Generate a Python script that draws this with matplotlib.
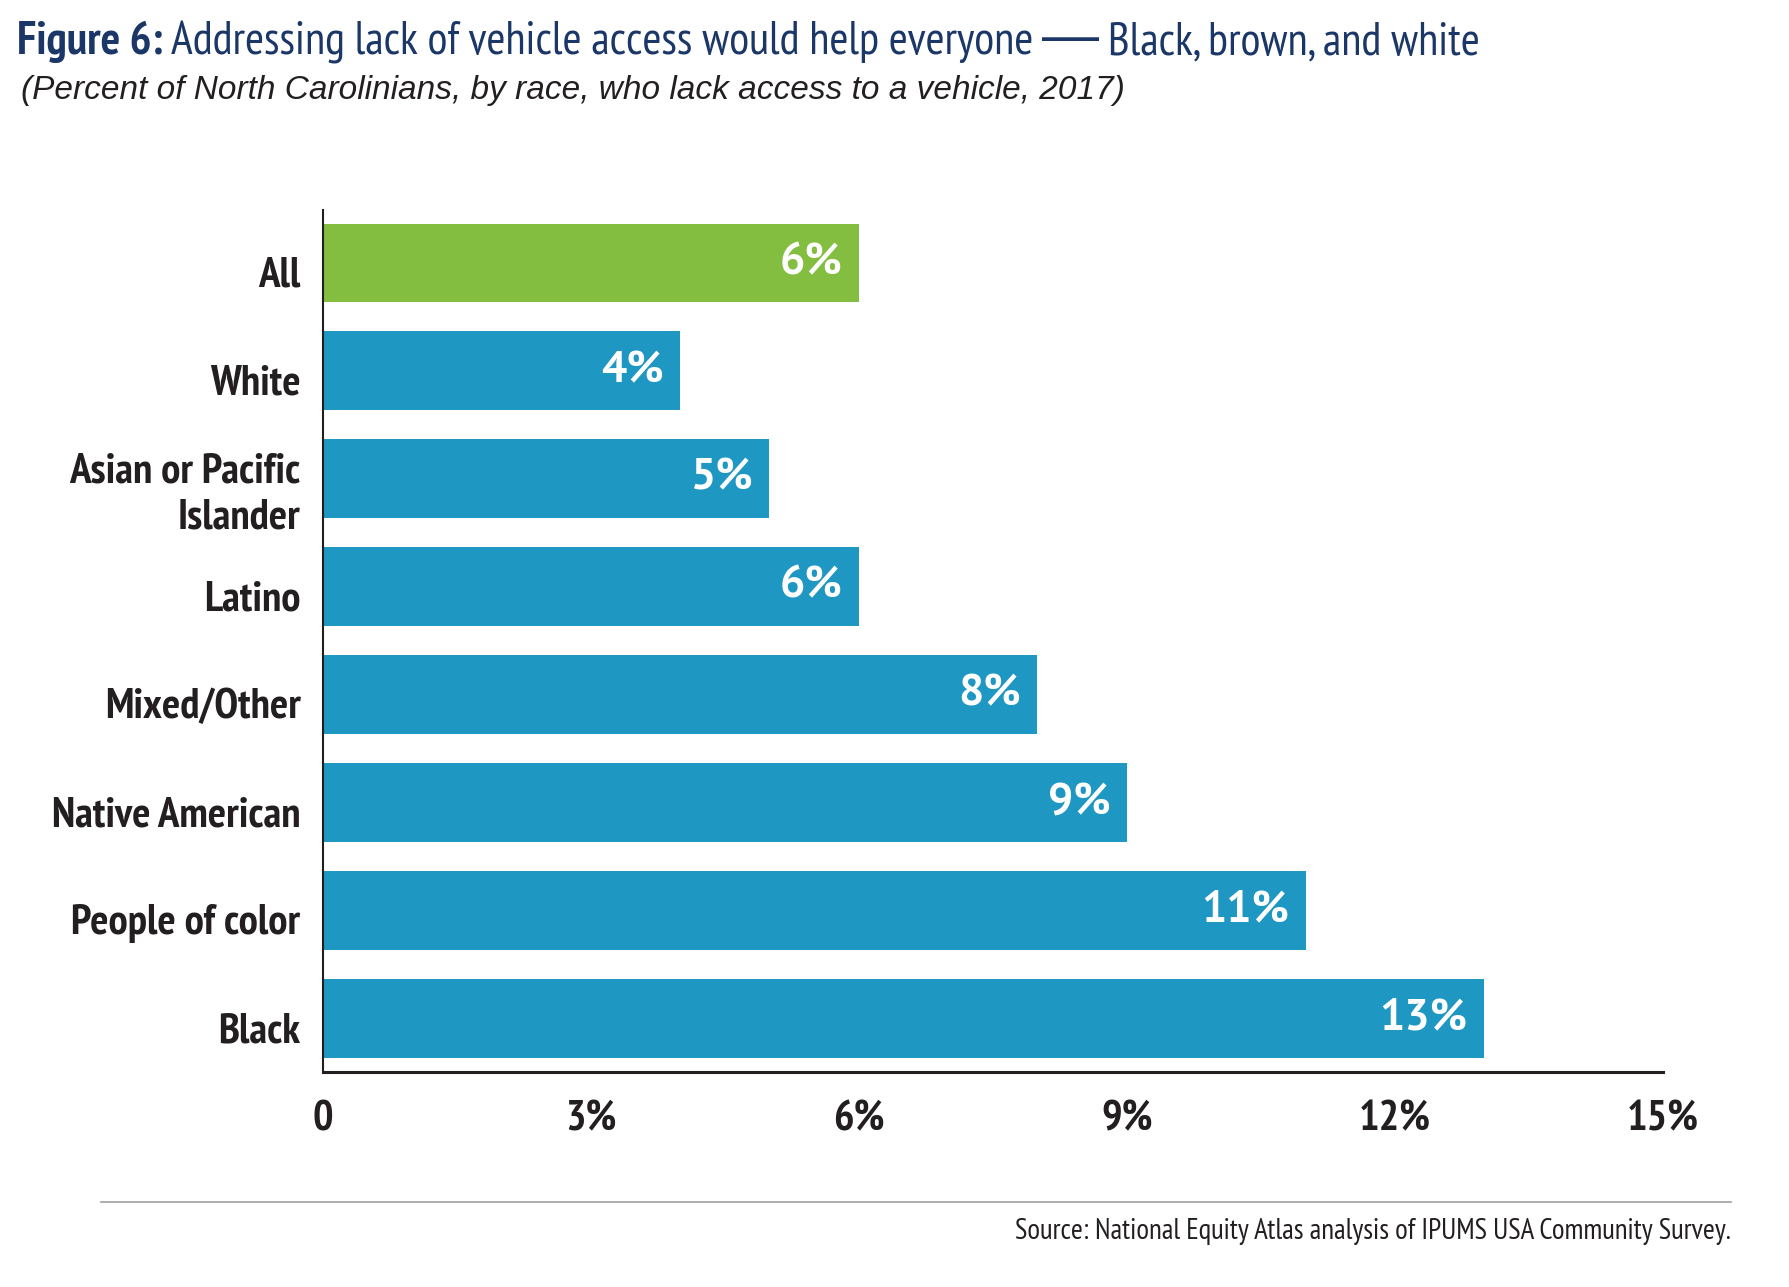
import numpy as np
import matplotlib
matplotlib.use('Agg')
import matplotlib.pyplot as plt
from matplotlib.lines import Line2D

# data
categories = ['All', 'White', 'Asian or Pacific\nIslander', 'Latino', 'Mixed/Other',
              'Native American', 'People of color', 'Black']
values = [6.0, 4.0, 5.0, 6.0, 8.0, 9.0, 11.0, 13.0]
value_labels = ['6%', '4%', '5%', '6%', '8%', '9%', '11%', '13%']
tick_vals = [0, 3, 6, 9, 12, 15]
tick_labels = ['0', '3%', '6%', '9%', '12%', '15%']

GREEN = '#84be41'
BLUE = '#1f97c3'
NAVY = '#1b3768'
INK = '#231f20'
NARROW = ['PT Sans Narrow', 'Liberation Sans', 'DejaVu Sans']
SEMI = ['PT Sans', 'Open Sans', 'DejaVu Sans']

fig = plt.figure(figsize=(17.9, 12.87), dpi=100)
ax = fig.add_axes([0.1803, 0.1667, 0.7487, 0.6701])

colors = [GREEN] + [BLUE] * (len(values) - 1)
ypos = np.arange(len(categories))
bars = ax.barh(ypos, values, height=0.73, color=colors, edgecolor='none')

for b, lab in zip(bars, value_labels):
	ax.annotate(lab, (b.get_width(), b.get_y() + b.get_height() / 2),
		xytext=(-12, 0), textcoords='offset points', ha='right', va='center',
		color='white', fontsize=32, fontweight='bold', family=SEMI)

ax.set_xlim(0, 15)
ax.set_ylim(7.5, -0.49)
# category labels sit a little below the bar centres in the original (ticks are invisible)
ax.set_yticks(ypos + 0.08)
ax.set_yticklabels(categories, family=NARROW, fontweight='bold', fontsize=31,
	color=INK, linespacing=1.23)
ax.set_xticks(tick_vals)
ax.set_xticklabels(tick_labels, family=NARROW, fontweight='bold', fontsize=31, color=INK)
ax.tick_params(axis='y', length=0, pad=16)
ax.tick_params(axis='x', length=0, pad=20)

for s in ['top', 'right']:
	ax.spines[s].set_visible(False)
ax.spines['left'].set_color(INK)
ax.spines['left'].set_linewidth(1.5)
ax.spines['bottom'].set_color(INK)
ax.spines['bottom'].set_linewidth(2.2)

# title in pieces, chained along one baseline
fig.canvas.draw()
renderer = fig.canvas.get_renderer()
title_parts = [
	('Figure 6:', NARROW, 'bold', 33, 8),
	('Addressing lack of vehicle access would help everyone', NARROW, 'normal', 33, 9),
	('\u2014', ['Liberation Sans', 'DejaVu Sans'], 'normal', 41, 9),
	('Black, brown, and white', NARROW, 'normal', 33, 0),
]
xpix = 0.0095 * fig.bbox.width
for txt, fam, wt, fs, gap in title_parts:
	t = fig.text(xpix / fig.bbox.width, 0.958, txt, family=fam, fontweight=wt, fontsize=fs,
		color=NAVY, va='baseline', ha='left')
	xpix = t.get_window_extent(renderer=renderer).x1 + gap

fig.text(0.0115, 0.930, '(Percent of North Carolinians, by race, who lack access to a vehicle, 2017)',
	family=['Liberation Sans', 'DejaVu Sans'], style='italic', fontsize=24, color=INK,
	va='center', ha='left')

# source line
fig.add_artist(Line2D([0.0564, 0.967], [0.066, 0.066], color='#a0a0a0', linewidth=1.2))
fig.text(0.967, 0.0434, 'Source: National Equity Atlas analysis of IPUMS USA Community Survey.',
	family=NARROW, fontsize=20.8, color=INK, ha='right', va='center')

fig.savefig('out.png', dpi=100, facecolor='white')
